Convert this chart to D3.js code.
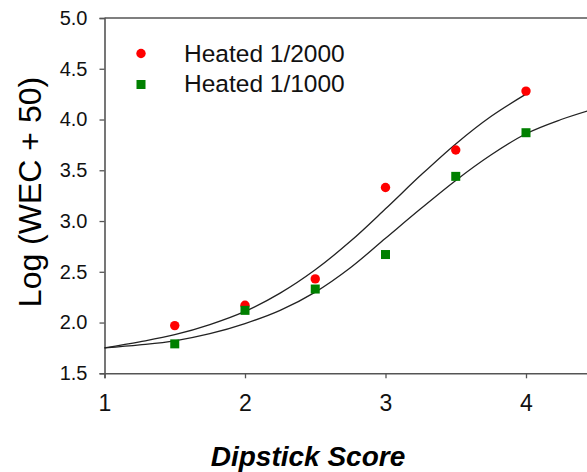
<!DOCTYPE html>
<html>
<head>
<meta charset="utf-8">
<script src="https://cdn.jsdelivr.net/npm/d3@7"></script>
<style>
  html, body { margin: 0; padding: 0; background: #fff; }
  svg { display: block; }
</style>
</head>
<body>
<svg id="chart" width="587" height="472"></svg>
<script>
// Measured points
const scores = [1.5, 2, 2.5, 3, 3.5, 4];
const heated2000 = [1.97, 2.17, 2.43, 3.33, 3.70, 4.28];
const heated1000 = [1.79, 2.12, 2.33, 2.67, 3.44, 3.87];

// Fitted sigmoid curves, sampled along the score axis
const fitScores = [1, 1.25, 1.5, 1.75, 2, 2.25, 2.5, 2.75, 3, 3.25, 3.5, 3.75, 4, 4.25, 4.45];
const fit2000 = [1.75, 1.81, 1.88, 1.98, 2.11, 2.29, 2.52, 2.80, 3.12, 3.45, 3.76, 4.03, 4.25];
const fit1000 = [1.75, 1.78, 1.82, 1.89, 1.99, 2.12, 2.30, 2.54, 2.83, 3.12, 3.40, 3.65, 3.86, 4.00, 4.09];

// Axis ticks and labels
const xTicks = [1, 2, 3, 4];
const yTicks = [1.5, 2.0, 2.5, 3.0, 3.5, 4.0, 4.5, 5.0];
const seriesNames = ["Heated 1/2000", "Heated 1/1000"];
const xTitle = "Dipstick Score";
const yTitle = "Log (WEC + 50)";

const svg = d3.select("#chart");
const axisColor = "#555";

const x = d3.scaleLinear().domain([1, 5]).range([104.5, 666.5]);
const y = d3.scaleLinear().domain([1.5, 5]).range([373.3, 18]);

// Top frame line
svg.append("line")
  .attr("x1", x(1)).attr("x2", x(5))
  .attr("y1", y(5)).attr("y2", y(5))
  .attr("stroke", axisColor).attr("stroke-width", 1.6);

// X axis
const gx = svg.append("g")
  .attr("transform", `translate(0,${y(1.5)})`)
  .call(d3.axisBottom(x).tickValues(xTicks).tickFormat(d3.format("d")).tickSize(5).tickPadding(16));
gx.select(".domain").attr("stroke", axisColor).attr("stroke-width", 1.6);
gx.selectAll(".tick line").attr("stroke", axisColor).attr("stroke-width", 1.3);
gx.selectAll(".tick text")
  .attr("fill", "#111")
  .attr("font-family", "'Liberation Sans', Arial, sans-serif")
  .attr("font-size", 23);

// Y axis
const gy = svg.append("g")
  .attr("transform", `translate(${x(1)},0)`)
  .call(d3.axisLeft(y).tickValues(yTicks).tickFormat(d3.format(".1f")).tickSize(5).tickPadding(12));
gy.select(".domain").attr("stroke", axisColor).attr("stroke-width", 1.6);
gy.selectAll(".tick line").attr("stroke", axisColor).attr("stroke-width", 1.3);
gy.selectAll(".tick text")
  .attr("fill", "#111")
  .attr("font-family", "'Liberation Sans', Arial, sans-serif")
  .attr("font-size", 20);

// Axis titles
svg.append("text")
  .attr("transform", "translate(41,192) rotate(-90)")
  .attr("text-anchor", "middle")
  .attr("font-family", "'Liberation Sans', Arial, sans-serif")
  .attr("font-size", 32)
  .attr("fill", "#000")
  .text(yTitle);

svg.append("text")
  .attr("x", 308).attr("y", 466)
  .attr("text-anchor", "middle")
  .attr("font-family", "'Liberation Sans', Arial, sans-serif")
  .attr("font-size", 28)
  .attr("font-weight", "bold")
  .attr("font-style", "italic")
  .attr("fill", "#000")
  .text(xTitle);

// Fitted curves
const line = d3.line()
  .x(d => x(d[0]))
  .y(d => y(d[1]))
  .curve(d3.curveCatmullRom.alpha(0.5));

[fit2000, fit1000].forEach(vals => {
  svg.append("path")
    .datum(vals.map((v, i) => [fitScores[i], v]))
    .attr("d", line)
    .attr("fill", "none")
    .attr("stroke", "#222")
    .attr("stroke-width", 1.3);
});

// Points
svg.append("g").selectAll("circle")
  .data(scores.map((s, i) => [s, heated2000[i]]))
  .join("circle")
  .attr("cx", d => x(d[0]))
  .attr("cy", d => y(d[1]))
  .attr("r", 4.7)
  .attr("fill", "#ff0000");

const sq = 9;
svg.append("g").selectAll("rect")
  .data(scores.map((s, i) => [s, heated1000[i]]))
  .join("rect")
  .attr("x", d => x(d[0]) - sq / 2)
  .attr("y", d => y(d[1]) - sq / 2)
  .attr("width", sq).attr("height", sq)
  .attr("fill", "#008000");

// Legend
const legend = svg.append("g");
legend.append("circle").attr("cx", 141).attr("cy", 53.5).attr("r", 4.7).attr("fill", "#ff0000");
legend.append("rect").attr("x", 141 - sq / 2).attr("y", 84.5 - sq / 2)
  .attr("width", sq).attr("height", sq).attr("fill", "#008000");
[62.3, 91.7].forEach((by, i) => {
  legend.append("text")
    .attr("x", 184).attr("y", by)
    .attr("font-family", "'Liberation Sans', Arial, sans-serif")
    .attr("font-size", 24.5)
    .attr("fill", "#111")
    .text(seriesNames[i]);
});
</script>
</body>
</html>
